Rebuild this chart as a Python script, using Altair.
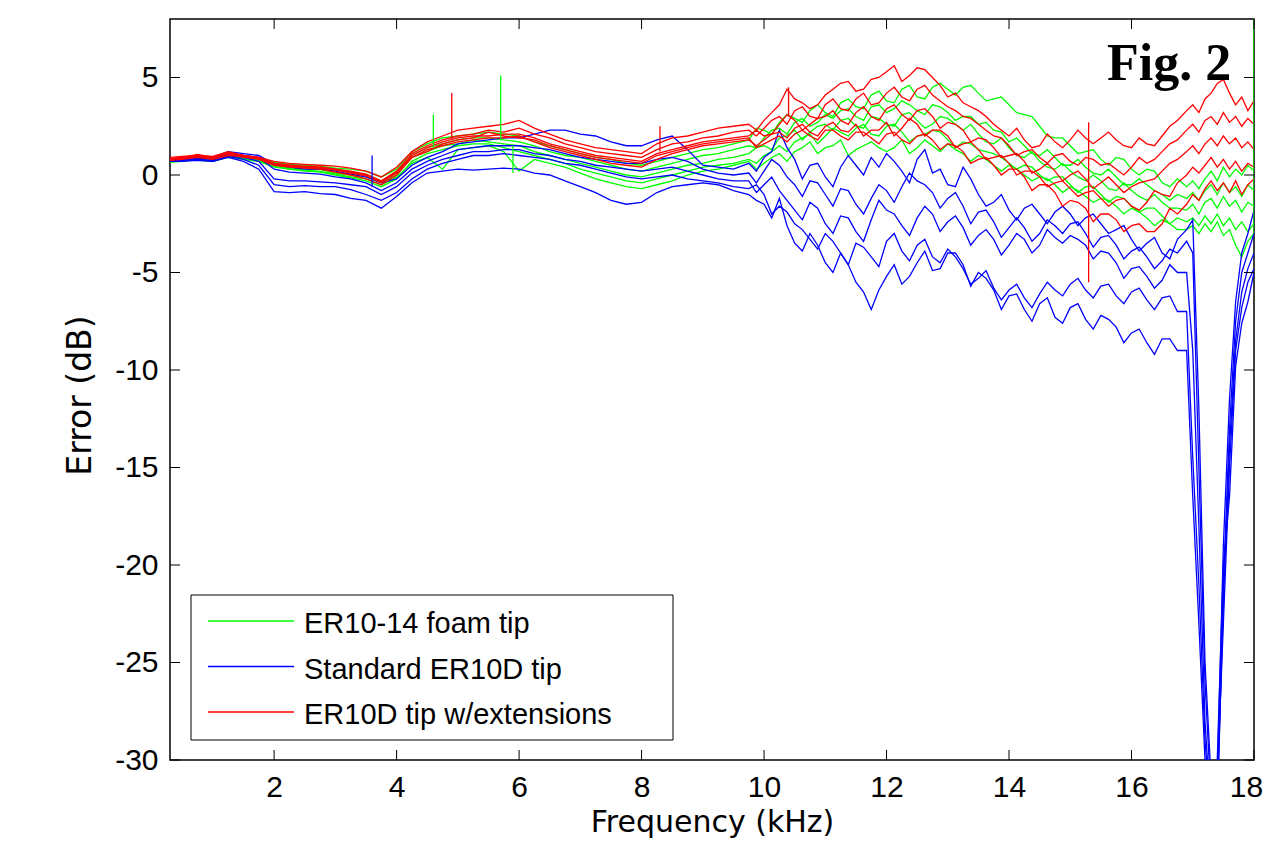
import altair as alt
import pandas as pd

# ---------------- data ----------------
FREQ = [0.3, 0.5, 0.75, 1.0, 1.25, 1.5, 1.75,
        2.0, 2.25, 2.5, 2.75, 3.0, 3.25, 3.5, 3.75, 4.0,
        4.25, 4.5, 4.75, 5.0, 5.25, 5.5, 5.75, 6.0, 6.25, 6.5, 6.75, 7.0,
        7.25, 7.5, 7.75, 8.0, 8.25, 8.5, 8.75, 9.0, 9.25, 9.5, 9.75,
        9.875, 10.0, 10.125, 10.25, 10.375, 10.5, 10.625, 10.75, 10.875, 11.0,
        11.125, 11.25, 11.375, 11.5, 11.625, 11.75, 11.875, 12.0, 12.125, 12.25,
        12.375, 12.5, 12.625, 12.75, 12.875, 13.0, 13.125, 13.25, 13.375, 13.5,
        13.625, 13.75, 13.875, 14.0, 14.125, 14.25, 14.375, 14.5, 14.625, 14.75,
        14.875, 15.0, 15.125, 15.25, 15.375, 15.5, 15.625, 15.75, 15.875, 16.0,
        16.125, 16.25, 16.375, 16.5, 16.625, 16.75,
        16.9, 17.0, 17.1, 17.2, 17.3, 17.4, 17.5, 17.6, 17.7, 17.8, 17.9, 18.0]

GROUPS = ["ER10-14 foam tip", "Standard ER10D tip", "ER10D tip w/extensions"]
COLORS = ["#00ff00", "#0000ff", "#ff0000"]

GREEN = [
    [0.8, 0.85, 0.9, 0.85, 1.05, 0.95, 0.85,
     0.65, 0.55, 0.5, 0.45, 0.35, 0.3, 0.2, -0.1, 0.3,
     1.2, 1.6, 1.9, 2.0, 2.1, 2.2, 2.1, 2.0, 1.7, 1.5, 1.3, 1.1, 0.9, 0.8, 0.6, 0.5, 0.7, 0.9, 1.1, 1.3, 1.4, 1.6, 1.8,
     2.4, 2.3, 2.1, 2.7, 3.1, 2.9, 2.7, 3.3, 3.6, 3.2, 3.0, 3.7, 3.9, 3.5, 3.4, 4.1, 4.3, 3.8, 3.7, 4.4, 4.6, 4.0, 3.9, 4.5,
     4.7, 4.4, 4.1, 4.5, 4.6, 4.2, 3.8, 3.9, 4.0, 3.6, 3.2, 3.1, 3.0, 2.5, 2.0, 1.9, 1.9, 1.5, 1.1, 1.2, 1.3, 0.8, 0.5, 0.9,
     0.8, 0.3, 0.0, 0.3, 0.2, -0.4, -0.6, -0.2,
     -0.6, -0.3, -0.7, -0.2, 0.2, -0.3, 0.4, -0.1, 0.3, 0.0, 0.5, 0.2],
    [0.7, 0.8, 0.8, 0.75, 0.95, 0.9, 0.8,
     0.55, 0.45, 0.4, 0.35, 0.25, 0.15, 0.05, -0.3, 0.1,
     1.0, 1.4, 1.6, 1.8, 1.9, 1.9, 1.8, 1.7, 1.5, 1.2, 1.0, 0.9, 0.7, 0.5, 0.3, 0.2, 0.4, 0.6, 0.8, 1.0, 1.1, 1.3, 1.5,
     1.4, 1.9, 2.3, 2.4, 2.1, 2.7, 2.9, 2.5, 2.7, 3.1, 2.9, 3.3, 3.4, 3.0, 2.8, 3.5, 3.6, 3.2, 3.4, 3.8, 3.6, 3.3, 3.1, 3.6,
     3.5, 3.2, 2.8, 3.0, 3.0, 2.6, 2.7, 2.3, 2.2, 1.7, 1.9, 1.5, 1.1, 1.0, 1.3, 0.9, 0.5, 0.5, 0.8, 0.4, 0.1, 0.0, 0.3, -0.1,
     -0.5, -0.5, -0.2, -0.5, -0.8, -1.0, -1.3, -1.0,
     -1.2, -0.9, -1.3, -0.8, -0.5, -1.0, -0.4, -0.9, -0.6, -1.1, -0.5, -0.8],
    [0.75, 0.75, 0.85, 0.8, 1.0, 0.85, 0.75,
     0.5, 0.35, 0.3, 0.3, 0.1, 0.0, -0.1, -0.4, 0.0,
     0.9, 1.2, 1.5, 1.6, 1.8, 1.7, 1.6, 1.5, 1.2, 1.0, 0.8, 0.6, 0.4, 0.2, 0.0, -0.1, 0.1, 0.3, 0.5, 0.6, 0.8, 0.9, 1.1,
     1.4, 1.5, 1.3, 1.9, 2.0, 2.3, 1.8, 2.2, 2.5, 2.6, 2.3, 2.8, 2.9, 2.5, 2.4, 3.0, 2.9, 2.6, 2.5, 3.1, 3.2, 2.8, 2.4, 2.6,
     3.0, 2.9, 2.6, 2.3, 2.6, 2.1, 1.7, 1.6, 1.9, 1.4, 1.0, 0.9, 1.2, 0.7, 0.4, 0.3, 0.6, 0.2, -0.1, -0.3, 0.0, -0.3, -0.7, -0.8,
     -0.4, -0.8, -1.1, -1.3, -1.0, -1.4, -1.7, -1.7,
     -1.8, -1.5, -2.0, -1.4, -1.2, -1.7, -1.1, -1.6, -1.3, -1.9, -1.4, -1.6],
    [0.65, 0.7, 0.8, 0.7, 0.9, 0.8, 0.7,
     0.45, 0.3, 0.2, 0.15, 0.0, -0.15, -0.3, -0.6, -0.2,
     0.7, 1.1, 1.3, 1.5, 1.6, 1.6, 1.4, 1.2, 1.0, 0.8, 0.6, 0.3, 0.1, -0.1, -0.3, -0.4, -0.2, 0.0, 0.2, 0.4, 0.5, 0.6, 0.8,
     0.6, 1.0, 1.2, 1.5, 1.2, 1.7, 1.9, 2.1, 1.6, 2.0, 2.4, 2.2, 2.0, 2.4, 2.6, 2.1, 2.0, 2.5, 2.6, 2.2, 1.7, 2.0, 2.1, 2.3,
     2.2, 1.8, 1.4, 1.7, 1.6, 1.3, 1.2, 1.1, 0.9, 0.6, 0.3, 0.5, 0.4, 0.0, -0.3, -0.1, -0.1, -0.5, -0.9, -0.6, -0.6, -1.0, -1.4, -1.1,
     -1.2, -1.6, -1.9, -1.7, -1.7, -2.1, -2.5, -2.2,
     -2.4, -2.2, -2.6, -2.1, -2.5, -2.0, -2.6, -2.2, -2.8, -2.4, -2.9, -2.5],
    [0.7, 0.75, 0.75, 0.7, 0.95, 0.85, 0.7,
     0.4, 0.3, 0.25, 0.2, 0.05, -0.1, -0.2, -0.5, -0.1,
     0.6, 0.9, 0.3, 1.3, 1.4, 1.5, 1.2, 0.2, 0.8, 0.6, 0.4, 0.1, -0.2, -0.4, -0.6, -0.7, -0.5, -0.3, 0.0, 0.2, 0.3, 0.5, 0.7,
     0.3, 0.6, 0.9, 1.1, 0.7, 1.2, 1.4, 1.7, 1.1, 1.4, 1.5, 1.8, 1.0, 1.3, 1.5, 1.7, 1.4, 1.2, 1.4, 1.8, 1.1, 1.4, 1.8, 1.5,
     1.2, 1.6, 1.3, 1.1, 0.7, 1.0, 0.8, 0.5, 0.2, 0.5, 0.3, 0.0, -0.3, -0.1, -0.2, -0.5, -0.9, -0.6, -0.8, -1.1, -1.4, -1.2, -1.3, -1.6,
     -2.0, -1.7, -1.9, -2.2, -2.6, -2.3, -2.5, -2.8,
     -2.8, -2.6, -3.0, -2.5, -2.9, -2.4, -3.1, -2.8, -3.6, -4.2, -3.4, -3.0],
]

BLUE = [
    [0.8, 0.85, 0.9, 0.9, 1.2, 1.1, 1.0,
     0.55, 0.4, 0.3, 0.3, 0.2, 0.05, -0.1, -0.4, -0.2,
     0.5, 0.9, 1.2, 1.6, 1.7, 1.8, 1.9, 1.9, 2.1, 2.3, 2.3, 2.1, 2.0, 1.7, 1.5, 1.5, 1.8, 2.0, 1.3, 0.5, 0.4, 0.3, 0.6,
     0.2, 0.9, 1.2, 2.3, 1.4, 0.8, -0.2, 0.5, 0.6, -0.1, -0.6, 0.4, 1.0, 0.5, 0.0, 0.9, 0.4, 1.1, 0.7, 0.2, -0.4, 0.8, 1.3, 0.1,
     0.3, -0.5, -0.6, 0.4, -0.2, -1.0, -1.6, -1.4, -1.0, -1.8, -2.3, -1.7, -1.5, -2.0, -2.5, -1.9, -1.6, -2.0, -2.6, -2.2, -2.0, -2.5, -3.0, -2.8,
     -2.6, -3.3, -3.9, -3.5, -3.2, -4.0, -4.3, -3.3,
     -2.8, -2.3, -12.0, -25.0, -31.0, -31.0, -19.0, -11.5, -6.5, -4.0, -3.0, -1.8],
    [0.75, 0.8, 0.85, 0.8, 1.1, 1.0, 0.9,
     0.3, 0.15, 0.1, 0.05, -0.1, -0.2, -0.4, -0.8, -0.4,
     0.3, 0.7, 1.0, 1.3, 1.4, 1.5, 1.5, 1.5, 1.4, 1.3, 1.1, 0.9, 0.8, 0.7, 0.6, 0.6, 0.8, 0.9, 0.7, 0.3, 0.1, 0.0, 0.1,
     -0.4, 0.2, 0.8, 0.5, -0.1, -0.5, -1.1, -0.3, -0.4, -1.0, -1.6, -0.7, -0.8, -1.5, -2.0, -1.2, -0.5, -0.8, -1.4, -0.6, 0.1, -0.3,
     -0.5, -0.9, -1.7, -1.2, -0.9, -1.6, -2.5, -1.9, -1.8, -2.4, -3.2, -2.7, -2.2, -2.7, -3.4, -3.0, -2.3, -2.6, -3.0, -2.5, -2.4, -3.0,
     -3.7, -3.2, -3.1, -3.6, -4.3, -3.9, -3.7, -4.2, -4.8, -4.4, -3.8, -4.0,
     -3.4, -4.0, -15.0, -26.0, -32.0, -33.0, -21.0, -13.0, -7.5, -5.0, -4.0, -3.0],
    [0.7, 0.75, 0.8, 0.75, 1.0, 0.9, 0.7,
     -0.2, -0.3, -0.3, -0.35, -0.4, -0.5, -0.6, -1.0, -0.6,
     0.1, 0.5, 0.8, 1.0, 1.2, 1.2, 1.3, 1.3, 1.1, 1.0, 0.8, 0.7, 0.5, 0.4, 0.3, 0.2, 0.3, 0.4, 0.2, 0.0, -0.2, -0.3, -0.3,
     -0.9, -0.5, -0.1, -0.8, -1.3, -1.8, -2.3, -1.4, -1.7, -2.5, -3.0, -2.1, -2.2, -2.9, -3.4, -2.3, -1.3, -1.8, -2.0, -2.6, -3.1, -2.2,
     -1.6, -2.0, -2.9, -2.4, -2.1, -2.7, -3.6, -3.1, -2.8, -3.3, -4.1, -3.6, -3.0, -3.3, -4.0, -3.6, -2.8, -3.2, -3.5, -3.1, -3.3, -3.6,
     -4.3, -3.9, -4.0, -4.5, -5.3, -4.8, -4.7, -5.2, -5.8, -5.4, -4.6, -5.0,
     -5.0, -9.0, -18.0, -28.0, -33.0, -32.0, -22.0, -14.0, -8.5, -6.0, -4.8, -4.0],
    [0.7, 0.75, 0.8, 0.7, 0.95, 0.8, 0.5,
     -0.5, -0.6, -0.55, -0.6, -0.6, -0.75, -1.0, -1.3, -0.9,
     -0.2, 0.3, 0.6, 0.8, 1.0, 1.0, 1.1, 1.0, 0.9, 0.8, 0.6, 0.5, 0.3, 0.1, -0.1, -0.2, -0.1, 0.0, -0.2, -0.3, -0.4, -0.6, -0.7,
     -0.5, -1.0, -2.0, -1.6, -1.9, -2.5, -2.8, -3.3, -3.8, -3.0, -3.4, -4.0, -4.6, -3.5, -3.7, -4.2, -4.7, -3.4, -3.0, -3.9, -4.4, -3.6,
     -3.3, -4.2, -4.5, -3.8, -4.2, -4.8, -5.6, -5.3, -4.9, -5.8, -6.4, -5.9, -5.6, -6.3, -6.8, -6.1, -5.5, -5.9, -6.2, -5.6, -5.3, -5.9,
     -6.3, -5.7, -5.6, -6.2, -6.6, -6.0, -5.8, -6.4, -6.9, -6.3, -6.2, -7.0,
     -7.0, -14.5, -21.0, -29.0, -33.0, -31.0, -23.0, -15.0, -9.0, -6.8, -5.5, -4.8],
    [0.7, 0.7, 0.75, 0.7, 0.9, 0.7, 0.3,
     -0.85, -0.9, -0.85, -0.95, -1.0, -1.2, -1.3, -1.7, -1.1,
     -0.4, 0.1, 0.2, 0.3, 0.25, 0.3, 0.35, 0.3, 0.1, 0.0, -0.3, -0.6, -0.9, -1.3, -1.5, -1.4, -0.9, -0.6, -0.5, -0.4, -0.5, -0.8, -1.0,
     -1.3, -1.5, -2.2, -1.2, -2.6, -3.5, -3.9, -3.0, -3.6, -4.5, -5.0, -4.0, -4.6, -5.5, -6.0, -6.9, -5.9, -5.2, -4.6, -5.6, -5.2, -4.5,
     -3.9, -4.9, -4.8, -4.0, -4.0, -4.6, -5.7, -5.0, -5.3, -5.9, -6.9, -6.2, -6.1, -6.9, -7.5, -6.6, -6.3, -7.3, -7.6, -6.8, -6.6, -7.4,
     -7.9, -7.2, -7.4, -7.8, -8.6, -8.1, -7.9, -8.6, -9.2, -8.4, -8.4, -9.0,
     -9.0, -16.5, -23.0, -30.0, -32.0, -30.0, -20.0, -16.5, -9.8, -7.6, -6.5, -5.0],
]

RED = [
    [0.9, 0.95, 1.0, 0.95, 1.2, 1.0, 0.9,
     0.7, 0.6, 0.55, 0.5, 0.45, 0.35, 0.2, -0.1, 0.4,
     1.2, 1.7, 2.0, 2.3, 2.4, 2.5, 2.6, 2.8, 2.4, 2.1, 1.8, 1.6, 1.4, 1.3, 1.2, 1.1, 1.6, 1.9, 2.0, 2.2, 2.4, 2.5, 2.6,
     2.3, 2.8, 3.2, 3.6, 4.4, 3.9, 3.7, 3.4, 3.6, 4.1, 4.4, 4.7, 4.8, 4.3, 4.4, 4.9, 5.0, 5.3, 5.6, 4.8, 5.1, 5.5, 5.4, 5.0,
     4.6, 4.0, 4.2, 3.7, 3.5, 3.3, 3.0, 2.6, 2.3, 2.0, 2.4, 1.8, 1.4, 1.5, 2.1, 1.7, 1.4, 1.8, 2.3, 1.9, 1.6, 1.9, 2.2, 1.8,
     1.5, 1.4, 1.9, 1.6, 1.5, 2.0, 2.5, 2.8,
     3.3, 3.6, 3.2, 3.9, 4.2, 4.7, 4.9, 4.2, 3.6, 4.0, 3.3, 3.8],
    [0.85, 0.9, 1.05, 0.9, 1.1, 0.95, 0.85,
     0.6, 0.5, 0.45, 0.4, 0.3, 0.2, 0.05, -0.3, 0.2,
     1.1, 1.5, 1.8, 2.0, 2.1, 2.3, 2.2, 2.4, 2.1, 1.9, 1.6, 1.4, 1.2, 1.1, 1.0, 0.9, 1.3, 1.6, 1.7, 1.9, 2.0, 2.2, 2.3,
     2.0, 2.4, 2.8, 3.0, 2.6, 3.3, 3.5, 3.0, 2.9, 3.6, 3.9, 3.4, 3.3, 3.9, 4.2, 3.6, 3.7, 4.2, 4.5, 4.0, 3.8, 4.4, 4.6, 4.1,
     3.8, 3.5, 3.3, 3.0, 2.9, 2.6, 2.3, 2.0, 1.9, 1.5, 1.0, 1.2, 1.3, 0.9, 0.6, 1.0, 1.1, 0.7, 0.5, 0.9, 0.8, 0.5, 0.6, 0.3,
     0.0, 0.4, 0.9, 0.6, 0.8, 1.2, 1.6, 1.8,
     2.3, 2.6, 2.2, 2.8, 3.0, 2.6, 3.2, 2.7, 3.0, 2.5, 2.9, 2.6],
    [0.8, 0.85, 0.95, 0.85, 1.1, 0.9, 0.85,
     0.55, 0.45, 0.4, 0.35, 0.25, 0.1, -0.05, -0.4, 0.1,
     1.0, 1.4, 1.7, 1.9, 2.0, 2.0, 2.1, 2.1, 1.9, 1.6, 1.4, 1.2, 1.0, 0.9, 0.8, 0.7, 1.1, 1.3, 1.5, 1.7, 1.8, 1.9, 2.0,
     2.3, 2.0, 2.1, 2.6, 3.1, 2.8, 2.3, 2.6, 2.9, 3.0, 3.3, 2.8, 2.6, 3.2, 3.5, 3.0, 2.8, 3.4, 3.6, 3.1, 2.8, 3.3, 3.4, 3.0,
     2.4, 2.7, 2.6, 2.3, 1.7, 1.9, 1.8, 1.4, 0.9, 1.0, 1.1, 0.7, 0.1, 0.3, 0.6, 0.2, -0.3, 0.0, 0.2, -0.2, -0.7, -0.4, -0.1, -0.5,
     -0.9, -0.6, -0.4, -0.3, -0.2, 0.2, 0.6, 0.8,
     1.2, 1.5, 1.1, 1.6, 1.9, 1.5, 2.0, 1.6, 1.9, 1.4, 1.7, 1.3],
    [0.75, 0.8, 0.9, 0.8, 1.0, 0.95, 0.8,
     0.5, 0.4, 0.35, 0.3, 0.15, 0.0, -0.2, -0.5, 0.0,
     0.9, 1.3, 1.5, 1.7, 1.8, 1.9, 1.9, 2.0, 1.7, 1.4, 1.2, 1.0, 0.8, 0.6, 0.5, 0.4, 0.8, 1.1, 1.3, 1.5, 1.6, 1.7, 1.8,
     1.5, 1.8, 2.1, 2.2, 1.9, 2.4, 2.6, 2.2, 2.0, 2.5, 2.7, 2.3, 2.2, 2.6, 2.0, 2.3, 2.3, 2.7, 2.0, 2.4, 2.9, 2.6, 2.0, 2.3,
     2.3, 2.0, 1.4, 1.6, 1.7, 1.3, 0.8, 0.9, 1.0, 0.6, 0.0, 0.2, 0.2, -0.1, -0.6, -0.4, -0.3, -0.7, -1.1, -0.9, -0.8, -1.2, -1.6, -1.3,
     -1.2, -1.6, -1.8, -1.4, -0.8, -1.0, -1.1, -0.4,
     0.0, 0.4, 0.1, 0.5, 0.9, 0.4, 0.8, 0.3, 0.7, 0.2, 0.6, 0.4],
    [0.8, 0.9, 0.95, 0.9, 1.15, 1.0, 0.9,
     0.6, 0.5, 0.4, 0.4, 0.3, 0.15, 0.0, -0.35, 0.15,
     0.9, 1.2, 1.6, 1.8, 1.9, 2.2, 2.0, 1.9, 1.8, 1.5, 1.3, 1.1, 0.9, 0.8, 0.7, 0.6, 1.0, 1.2, 1.4, 1.6, 1.7, 1.8, 1.9,
     1.4, 1.6, 1.8, 2.0, 1.7, 2.1, 2.3, 2.0, 1.8, 2.3, 2.3, 2.0, 1.8, 2.2, 2.2, 1.9, 1.6, 2.1, 2.2, 1.8, 1.6, 2.0, 2.1, 1.8,
     1.3, 1.6, 1.5, 1.2, 0.6, 0.8, 0.9, 0.5, 0.0, 0.3, 0.3, -0.1, -0.8, -0.5, -0.5, -0.9, -1.6, -1.3, -1.4, -1.7, -2.4, -2.0, -2.0, -2.3,
     -2.9, -2.6, -2.5, -2.9, -2.9, -2.5, -1.7, -2.0,
     -1.5, -1.0, -1.3, -0.7, -0.3, -0.8, -0.4, -0.9, -0.3, -1.0, -0.5, -0.2],
]

# narrow single-sample spikes: frequency, low end, high end
SPIKE_GROUP = [GROUPS[0], GROUPS[2], GROUPS[0], GROUPS[2], GROUPS[2], GROUPS[0], GROUPS[1], GROUPS[2], GROUPS[0]]
SPIKE_FREQ = [4.6, 4.9, 5.7, 10.4, 15.3, 18.0, 3.6, 8.3, 5.9]
SPIKE_LO = [1.4, 1.8, 1.8, 3.0, -5.5, -3.0, -0.6, 1.2, 0.1]
SPIKE_HI = [3.1, 4.2, 5.1, 4.5, 2.7, 8.0, 1.0, 2.5, 1.5]

XTICKS = [2, 4, 6, 8, 10, 12, 14, 16, 18]
YTICKS = [5, 0, -5, -10, -15, -20, -25, -30]

# ---------------- build table ----------------
rows = []
for gname, curves in zip(GROUPS, [GREEN, BLUE, RED]):
    for ci, vals in enumerate(curves):
        assert len(vals) == len(FREQ), (gname, ci, len(vals), len(FREQ))
        for f, v in zip(FREQ, vals):
            rows.append({"freq": f, "err": v, "group": gname, "curve": f"{gname}-{ci}"})
df = pd.DataFrame(rows)
spikes = pd.DataFrame({"freq": SPIKE_FREQ, "lo": SPIKE_LO, "hi": SPIKE_HI, "group": SPIKE_GROUP})

W, H = 1084, 741
xs = alt.Scale(domain=[0.3, 18], nice=False, zero=False)
ys = alt.Scale(domain=[-30, 8], nice=False, zero=False)
cs = alt.Scale(domain=GROUPS, range=COLORS)

x_axis = alt.Axis(title="Frequency (kHz)", values=XTICKS, grid=False,
                  labelExpr="toString(datum.value)",
                  ticks=False, tickSize=0, domain=False, labelFont="Liberation Sans",
                  labelFontSize=30, labelColor="black", labelPadding=12,
                  labelFlush=False, labelOverlap=False,
                  labelOffset={"condition": {"test": "datum.value === 18", "value": -8}, "value": 0},
                  titleFont="DejaVu Sans", titleFontSize=30, titleFontWeight="normal",
                  titleColor="black", titleY=71, titleBaseline="alphabetic")
y_axis = alt.Axis(title="Error (dB)", values=YTICKS, grid=False,
                  labelExpr="toString(datum.value)",
                  ticks=False, tickSize=0, domain=False, labelFont="Liberation Sans",
                  labelFontSize=30, labelColor="black", labelPadding=12,
                  labelFlush=False, labelOverlap=False,
                  titleFont="DejaVu Sans", titleFontSize=33, titleFontWeight="normal",
                  titleColor="black", titleX=-90, titleY=376, titleAngle=270,
                  titleAlign="center", titleBaseline="middle")

lines = alt.Chart(df).mark_line(strokeWidth=1.3, clip=True).encode(
    x=alt.X("freq:Q", scale=xs, axis=x_axis),
    y=alt.Y("err:Q", scale=ys, axis=y_axis),
    color=alt.Color("group:N", scale=cs, legend=None),
    detail="curve:N",
)

spike_layer = alt.Chart(spikes).mark_rule(strokeWidth=1.3, clip=True).encode(
    x=alt.X("freq:Q", scale=xs, axis=x_axis),
    y=alt.Y("lo:Q", scale=ys, axis=y_axis),
    y2="hi:Q",
    color=alt.Color("group:N", scale=cs, legend=None),
)

xt = pd.DataFrame({"v": XTICKS})
yt = pd.DataFrame({"v": YTICKS})
TL = 10
tick_layers = [
    alt.Chart(xt).mark_rule(color="black", strokeWidth=1).encode(
        x=alt.X("v:Q", scale=xs, axis=x_axis), y=alt.value(H), y2=alt.value(H - TL)),
    alt.Chart(xt).mark_rule(color="black", strokeWidth=1).encode(
        x=alt.X("v:Q", scale=xs, axis=x_axis), y=alt.value(0), y2=alt.value(TL)),
    alt.Chart(yt).mark_rule(color="black", strokeWidth=1).encode(
        y=alt.Y("v:Q", scale=ys, axis=y_axis), x=alt.value(0), x2=alt.value(TL)),
    alt.Chart(yt).mark_rule(color="black", strokeWidth=1).encode(
        y=alt.Y("v:Q", scale=ys, axis=y_axis), x=alt.value(W - TL), x2=alt.value(W)),
]

one = alt.Data(values=[{"a": 1}])
legend_layers = [
    alt.Chart(one).mark_rect(fill="white", stroke="black", strokeWidth=1).encode(
        x=alt.value(21), x2=alt.value(503), y=alt.value(576), y2=alt.value(721))
]
for i, (lab, col) in enumerate(zip(GROUPS, COLORS)):
    ly = 602 + i * 45.5
    legend_layers.append(
        alt.Chart(one).mark_rule(color=col, strokeWidth=1.3).encode(
            x=alt.value(38), x2=alt.value(124), y=alt.value(ly)))
    legend_layers.append(
        alt.Chart(one).mark_text(font="Liberation Sans", fontSize=29, color="black",
                                 align="left", baseline="alphabetic").encode(
            x=alt.value(134), y=alt.value(ly + 12), text=alt.value(lab)))

fig = alt.Chart(one).mark_text(font="Liberation Serif", fontSize=52, fontWeight="bold",
                               color="black", align="left", baseline="alphabetic").encode(
    x=alt.value(937), y=alt.value(61), text=alt.value("Fig. 2"))

chart = alt.layer(lines, spike_layer, *tick_layers, *legend_layers, fig).properties(
    width=W, height=H,
    padding={"left": 162, "top": 11, "right": 9, "bottom": 80},
    autosize=alt.AutoSizeParams(type="none"),
    background="white",
).configure_view(stroke="black", strokeWidth=1.5)

chart.save("out.html", embed_options={"renderer": "svg", "actions": False})
